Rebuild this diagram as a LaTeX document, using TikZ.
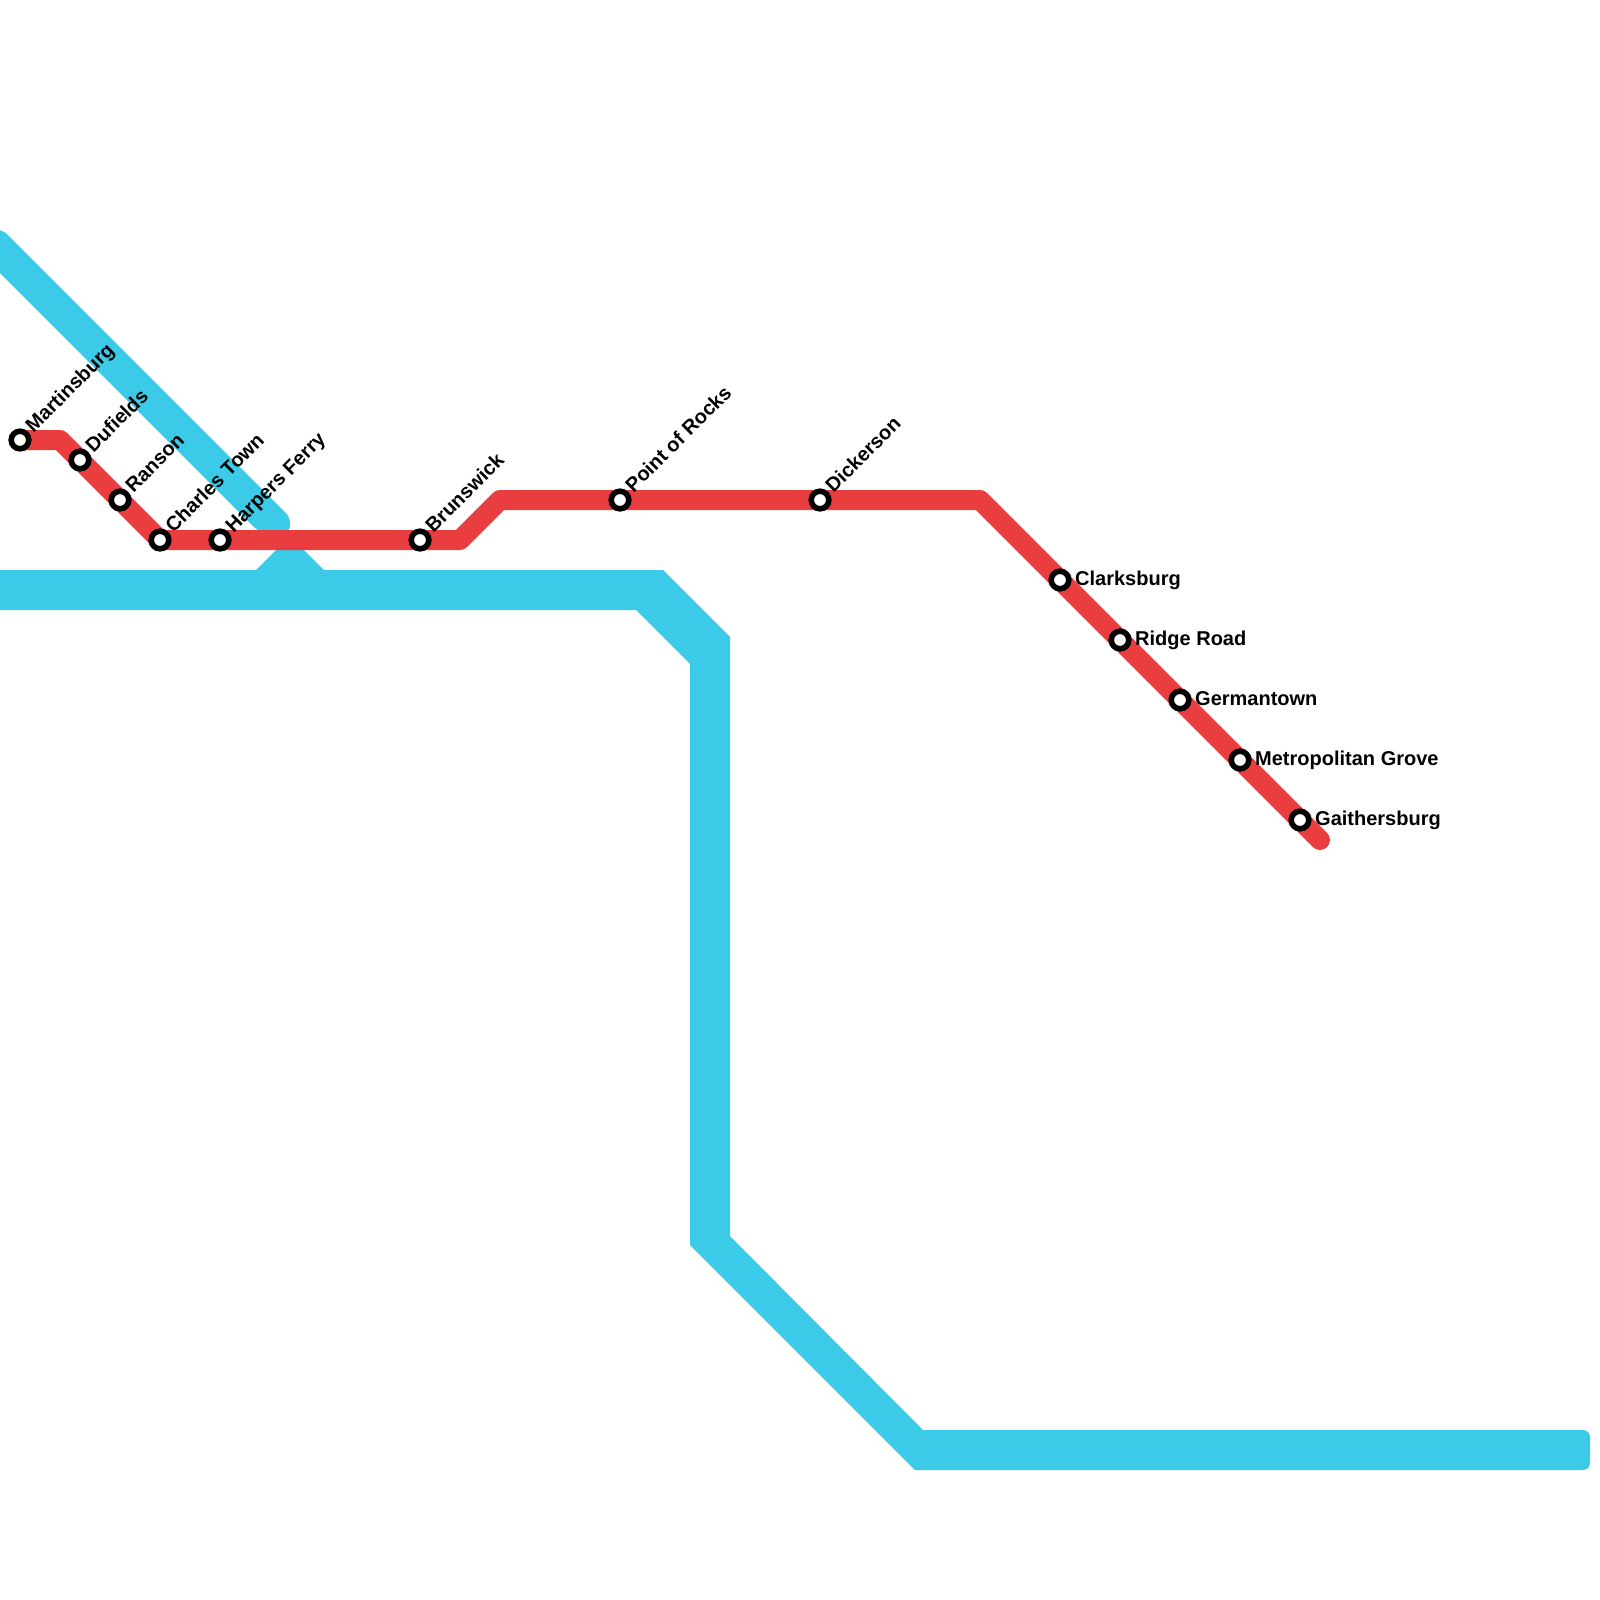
\documentclass[tikz,border=0pt]{standalone}
\usepackage{fontspec}
\usetikzlibrary{backgrounds}
\setmainfont{Liberation Sans}[BoldFont={Liberation Sans Bold}]
\definecolor{water}{HTML}{3CCAE9}
\definecolor{redline}{HTML}{E93D3F}
\tikzset{
  water fill/.style={fill=water,draw=none},
  red route/.style={draw=redline,line width=20pt,line join=round,line cap=round},
  station/.style={circle,draw=black,fill=white,line width=5.6pt,minimum size=17.6pt,inner sep=0pt},
  label up/.style={anchor=base west,rotate=45,font=\bfseries\fontsize{20}{22}\selectfont,inner sep=0pt,text=black},
  label side/.style={anchor=base west,font=\bfseries\fontsize{20}{22}\selectfont,inner sep=0pt,text=black}
}
\begin{document}
\begin{tikzpicture}[x=1pt,y=-1pt]
\useasboundingbox (0,0) rectangle (1600,1600);
% bends
\coordinate (b1) at (60,440);
\coordinate (b2) at (460,540);
\coordinate (b3) at (500,500);
\coordinate (b4) at (980,500);
\coordinate (e1) at (1320,840);
% stations
\node[station] (s1) at (20,440) {};
\node[station] (s2) at (80,460) {};
\node[station] (s3) at (120,500) {};
\node[station] (s4) at (160,540) {};
\node[station] (s5) at (220,540) {};
\node[station] (s6) at (420,540) {};
\node[station] (s7) at (620,500) {};
\node[station] (s8) at (820,500) {};
\node[station] (s9) at (1060,580) {};
\node[station] (s10) at (1120,640) {};
\node[station] (s11) at (1180,700) {};
\node[station] (s12) at (1240,760) {};
\node[station] (s13) at (1300,820) {};
\begin{pgfonlayer}{background}
% water
\fill[water fill,rounded corners=6pt] (-5,230) -- (3,230) -- (290,517) -- (290,532) -- (259,532) -- (-5,268) -- cycle;
\fill[water fill] (-10,570) -- (256,570) [rounded corners=6pt] -- (281,545) -- (299,545) [sharp corners] -- (324,570) -- (663,570) -- (730,637) -- (730,1236) -- (923,1430) [rounded corners=7pt] -- (1590,1430) -- (1590,1470) [sharp corners] -- (915,1470) -- (690,1245) -- (690,664) -- (636,610) -- (-10,610) -- cycle;
\draw[red route] (s1.center) -- (b1) -- (s4.center) -- (b2) -- (b3) -- (b4) -- (e1);
\end{pgfonlayer}
% labels
\node[label up] (l1) at (33.5,433.5) {Martinsburg};
\node[label up] (l2) at (93.5,453.5) {Dufields};
\node[label up] (l3) at (133.5,493.5) {Ranson};
\node[label up] (l4) at (173.5,533.5) {Charles Town};
\node[label up] (l5) at (233.5,533.5) {Harpers Ferry};
\node[label up] (l6) at (433.5,533.5) {Brunswick};
\node[label up] (l7) at (633.5,493.5) {Point of Rocks};
\node[label up] (l8) at (833.5,493.5) {Dickerson};
\node[label side] (l9) at (1075,585) {Clarksburg};
\node[label side] (l10) at (1135,645) {Ridge Road};
\node[label side] (l11) at (1195,705) {Germantown};
\node[label side] (l12) at (1255,765) {Metropolitan Grove};
\node[label side] (l13) at (1315,825) {Gaithersburg};
\end{tikzpicture}
\end{document}
